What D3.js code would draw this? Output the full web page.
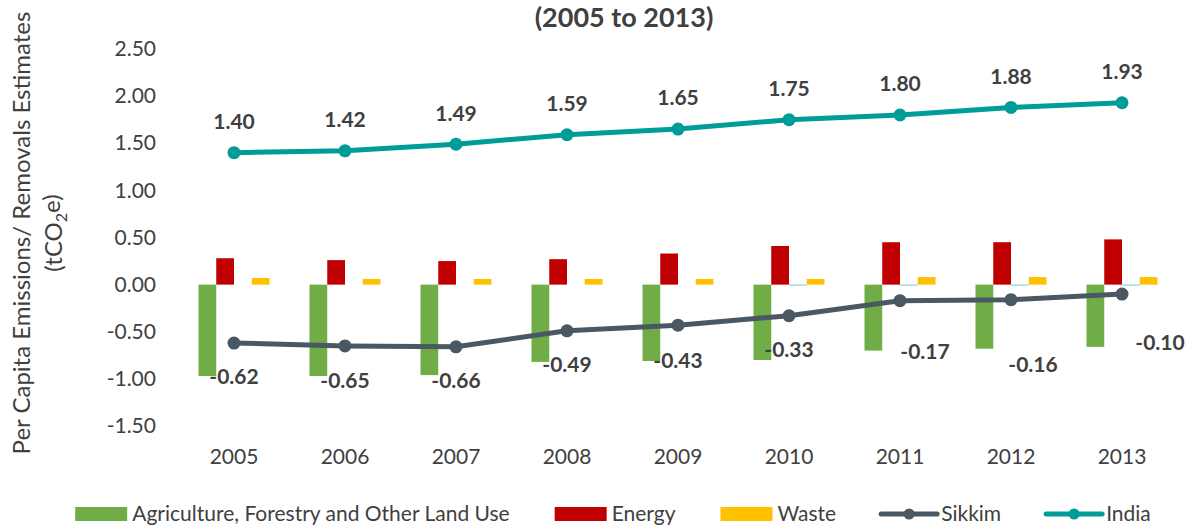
<!DOCTYPE html>
<html>
<head>
<meta charset="utf-8">
<script src="https://cdn.jsdelivr.net/npm/d3@7"></script>
<style>
  body { margin: 0; background: #fff; }
  svg { display: block; font-family: Lato, "Open Sans", sans-serif; }
</style>
</head>
<body>
<div id="chart"></div>
<script>
// data
var years = ["2005", "2006", "2007", "2008", "2009", "2010", "2011", "2012", "2013"];
var afolu = [-0.97, -0.97, -0.96, -0.82, -0.81, -0.80, -0.70, -0.68, -0.66];
var energy = [0.28, 0.26, 0.25, 0.27, 0.33, 0.41, 0.45, 0.45, 0.48];
var ippu = [0, 0, 0, 0, 0, 0.003, 0.003, 0.003, 0.003];
var waste = [0.07, 0.06, 0.06, 0.06, 0.06, 0.06, 0.08, 0.08, 0.08];
var sikkim = [-0.62, -0.65, -0.66, -0.49, -0.43, -0.33, -0.17, -0.16, -0.10];
var india = [1.40, 1.42, 1.49, 1.59, 1.65, 1.75, 1.80, 1.88, 1.93];
var yTicks = [-1.5, -1.0, -0.5, 0, 0.5, 1.0, 1.5, 2.0, 2.5];

// hand-placed Sikkim labels (offset from the point, px)
var sikkimLabelDx = [0, 0, 0, 0, 0, 0, 25, 22, 38];
var sikkimLabelDy = [34, 35, 34, 34, 35, 34, 51, 65, 49];

var width = 1195;
var height = 527;
var textColor = "#404040";

var svg = d3.select("#chart")
  .append("svg")
  .attr("width", width)
  .attr("height", height);

// scales
var x = d3.scaleBand().domain(years).range([178.5, 1177.5]).padding(0);
var barKeys = ["afolu", "energy", "ippu", "waste"];
var xSub = d3.scaleBand().domain(barKeys).range([-35.5, 35.5]).padding(0);
var y = d3.scaleLinear().domain([-1.5, 2.5]).range([426, 49]);

var barColors = { afolu: "#70AD47", energy: "#C00000", ippu: "#A6DCDA", waste: "#FFC000" };
var barData = { afolu: afolu, energy: energy, ippu: ippu, waste: waste };

function cx(i) { return x(years[i]) + x.bandwidth() / 2; }

// title (second line only visible)
svg.append("text")
  .attr("x", 624)
  .attr("y", 27)
  .attr("text-anchor", "middle")
  .attr("font-size", "27px")
  .attr("font-weight", "bold")
  .attr("fill", textColor)
  .text("(2005 to 2013)");

// y axis
var yAxis = svg.append("g")
  .attr("transform", "translate(158,0)")
  .call(d3.axisLeft(y).tickValues(yTicks).tickSize(0).tickPadding(2)
    .tickFormat(function (d) { return d.toFixed(2); }));
yAxis.select(".domain").remove();
yAxis.selectAll("text")
  .attr("font-size", "21px")
  .attr("font-family", "Lato, sans-serif")
  .attr("fill", textColor);

// x axis
var xAxis = svg.append("g")
  .attr("transform", "translate(0,446)")
  .call(d3.axisBottom(x).tickSize(0).tickPadding(3));
xAxis.select(".domain").remove();
xAxis.selectAll("text")
  .attr("font-size", "21px")
  .attr("font-family", "Lato, sans-serif")
  .attr("fill", textColor);

// y axis title
var yTitle = svg.append("text")
  .attr("transform", "translate(22,233) rotate(-90)")
  .attr("text-anchor", "middle")
  .attr("font-size", "24px")
  .attr("fill", textColor);
yTitle.append("tspan").attr("x", 0).attr("dy", "0.35em").text("Per Capita Emissions/ Removals Estimates");
var t2 = svg.append("text")
  .attr("transform", "translate(54,233) rotate(-90)")
  .attr("text-anchor", "middle")
  .attr("font-size", "24px")
  .attr("fill", textColor);
t2.append("tspan").attr("dy", "0.35em").text("(tCO");
t2.append("tspan").attr("font-size", "16px").attr("dy", "0.3em").text("2");
t2.append("tspan").attr("dy", "-0.3em").text("e)");

// bars
barKeys.forEach(function (k) {
  svg.append("g").selectAll("rect")
    .data(barData[k])
    .enter()
    .append("rect")
    .attr("x", function (d, i) { return cx(i) + xSub(k); })
    .attr("width", xSub.bandwidth())
    .attr("y", function (d) { return d >= 0 ? y(d) : y(0); })
    .attr("height", function (d) {
      var h = Math.abs(y(d) - y(0));
      return d !== 0 && h < 1.5 ? 1.5 : h;
    })
    .style("fill", barColors[k]);
});

// lines
var lineGen = d3.line()
  .x(function (d, i) { return cx(i); })
  .y(function (d) { return y(d); });

function drawSeries(values, color) {
  svg.append("path")
    .datum(values)
    .attr("d", lineGen)
    .style("fill", "none")
    .style("stroke", color)
    .style("stroke-width", 5)
    .style("stroke-linejoin", "round");
  svg.append("g").selectAll("circle")
    .data(values)
    .enter()
    .append("circle")
    .attr("cx", function (d, i) { return cx(i); })
    .attr("cy", function (d) { return y(d); })
    .attr("r", 6.5)
    .style("fill", color);
}
drawSeries(sikkim, "#4A5863");
drawSeries(india, "#009C97");

// data labels
svg.append("g").selectAll("text")
  .data(india)
  .enter()
  .append("text")
  .attr("x", function (d, i) { return cx(i); })
  .attr("y", function (d) { return y(d) - 31; })
  .attr("dy", "0.35em")
  .attr("text-anchor", "middle")
  .attr("font-size", "21px")
  .attr("font-weight", "bold")
  .attr("fill", textColor)
  .text(function (d) { return d.toFixed(2); });

svg.append("g").selectAll("text")
  .data(sikkim)
  .enter()
  .append("text")
  .attr("x", function (d, i) { return cx(i) + sikkimLabelDx[i]; })
  .attr("y", function (d, i) { return y(d) + sikkimLabelDy[i]; })
  .attr("dy", "0.35em")
  .attr("text-anchor", "middle")
  .attr("font-size", "21px")
  .attr("font-weight", "bold")
  .attr("fill", textColor)
  .text(function (d) { return d.toFixed(2); });

// legend
var legendItems = [
  { name: "Agriculture, Forestry and Other Land Use", color: barColors.afolu, type: "rect" },
  { name: "Energy", color: barColors.energy, type: "rect" },
  { name: "Waste", color: barColors.waste, type: "rect" },
  { name: "Sikkim", color: "#4A5863", type: "line" },
  { name: "India", color: "#009C97", type: "line" }
];
var legend = svg.append("g");
var lx = 0;
var ly = 514;
var gap = 45;
legendItems.forEach(function (item) {
  if (item.type === "rect") {
    legend.append("rect")
      .attr("x", lx).attr("y", ly - 7)
      .attr("width", 52).attr("height", 14)
      .style("fill", item.color);
  } else {
    legend.append("line")
      .attr("x1", lx).attr("x2", lx + 56)
      .attr("y1", ly).attr("y2", ly)
      .style("stroke", item.color)
      .style("stroke-width", 5)
      .style("stroke-linecap", "round");
    legend.append("circle")
      .attr("cx", lx + 28).attr("cy", ly).attr("r", 5.5)
      .style("fill", item.color);
  }
  lx += item.type === "rect" ? 57 : 60;
  var t = legend.append("text")
    .attr("x", lx).attr("y", ly)
    .attr("dy", "0.35em")
    .attr("font-size", "21px")
    .attr("fill", textColor)
    .text(item.name);
  lx += t.node().getComputedTextLength() + gap;
});
lx -= gap;
legend.attr("transform", "translate(" + (613 - lx / 2) + ",0)");
</script>
</body>
</html>
